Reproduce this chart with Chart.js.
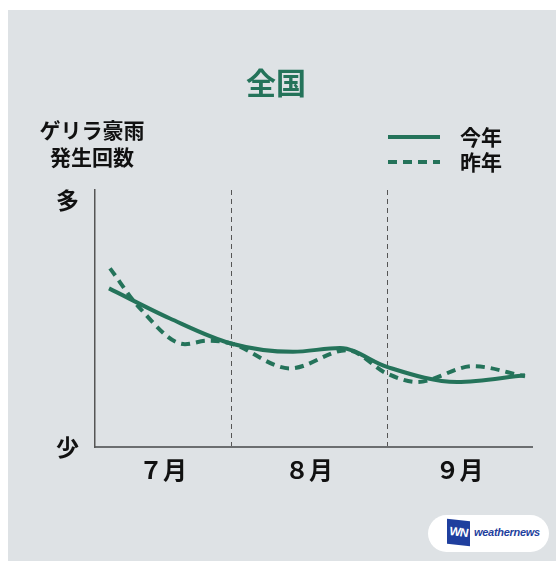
<!DOCTYPE html>
<html>
<head>
<meta charset="UTF-8">
<title>ゲリラ豪雨発生回数 全国</title>
<script src="https://cdn.jsdelivr.net/npm/chart.js@4.4.1/dist/chart.umd.min.js"></script>
<style>
  body { margin: 0; background: #fff; font-family: "Noto Sans CJK JP", sans-serif; }
  .panel { position: absolute; left: 8px; top: 10px; width: 548px; height: 551px; background: #dee2e5; }
  #chart { position: absolute; left: 0; top: 0; }
  .logo { position: absolute; left: 420px; top: 505px; width: 121px; height: 37px; background: #fff; border-radius: 19px; }
  .logo .mark { position: absolute; left: 19px; top: 5px; width: 23px; height: 25px; background: #1f3f9e; transform: skewY(6deg);
                color: #fff; font: italic bold 12px "Liberation Sans", sans-serif; line-height: 25px; text-align: center; letter-spacing: -1px; }
  .logo .name { position: absolute; left: 46px; top: 11px; color: #1f3f9e; font: italic bold 11px "Liberation Sans", sans-serif; letter-spacing: -0.3px; }
</style>
</head>
<body>
<div class="panel">
  <canvas id="chart" width="548" height="551"></canvas>
  <div class="logo"><div class="mark">WN</div><div class="name">weathernews</div></div>
</div>
<script>
// x = position along Jul–Sep (0..437), y = relative count (少 0 .. 多 100)
const monthLabels = ['７月', '８月', '９月'];
const monthCenters = [68, 214, 364.5];
const monthBounds = [136, 292];
const yLabels = { 0: '少', 100: '多' };

const thisYearX = [14, 75, 136, 198, 245, 292, 362, 430];
const thisYearY = [64.2, 52.0, 41.9, 38.5, 40.1, 32.4, 26.3, 29.0];
const lastYearX = [15, 45, 90, 112, 136, 195, 252, 292, 322, 378, 430];
const lastYearY = [72.3, 56.1, 41.6, 43.0, 41.9, 31.8, 39.2, 29.7, 26.3, 32.7, 28.6];

const green = '#24735a';
const toPoints = (xs, ys) => xs.map((x, i) => ({ x: x, y: ys[i] }));

// title, y-axis caption and legend drawn on the canvas
const textPlugin = {
  id: 'texts',
  afterDraw(chart) {
    const c = chart.ctx;
    c.save();
    c.textBaseline = 'middle';
    c.textAlign = 'center';
    c.fillStyle = green;
    c.font = 'bold 30px "Noto Sans CJK JP"';
    c.fillText('全国', 268, 73);

    c.fillStyle = '#111';
    c.font = 'bold 21px "Noto Sans CJK JP"';
    c.fillText('ゲリラ豪雨', 84, 120);
    c.fillText('発生回数', 84, 147);

    chart.data.datasets.forEach((ds, i) => {
      const y = 127 + i * 25;
      c.strokeStyle = ds.borderColor;
      c.lineWidth = ds.borderWidth;
      c.setLineDash(ds.borderDash || []);
      c.beginPath();
      c.moveTo(380, y);
      c.lineTo(432, y);
      c.stroke();
      c.setLineDash([]);
      c.fillStyle = '#111';
      c.textAlign = 'left';
      c.font = 'bold 21px "Noto Sans CJK JP"';
      c.fillText(ds.label, 452, y);
    });
    c.restore();
  }
};

new Chart(document.getElementById('chart'), {
  type: 'line',
  data: {
    datasets: [
      { label: '今年', data: toPoints(thisYearX, thisYearY), borderColor: green, borderWidth: 4,
        cubicInterpolationMode: 'monotone', pointRadius: 0, fill: false },
      { label: '昨年', data: toPoints(lastYearX, lastYearY), borderColor: green, borderWidth: 4,
        borderDash: [9, 6], cubicInterpolationMode: 'monotone', pointRadius: 0, fill: false }
    ]
  },
  options: {
    responsive: false,
    animation: false,
    layout: { padding: { left: 0, top: 180, right: 24, bottom: 64 } },
    plugins: { legend: { display: false }, tooltip: { enabled: false } },
    scales: {
      x: {
        type: 'linear', min: 0, max: 437,
        afterBuildTicks: s => { s.ticks = monthCenters.map(v => ({ value: v })); },
        afterFit: s => { s.height = 50; },
        ticks: {
          callback: v => monthLabels[monthCenters.indexOf(v)],
          font: { family: '"Noto Sans CJK JP"', size: 24, weight: 'bold' },
          color: '#111', padding: 0, maxRotation: 0, autoSkip: false
        },
        grid: { display: false },
        border: { display: true, color: '#6b6e70', width: 2 }
      },
      x2: {
        type: 'linear', position: 'top', min: 0, max: 437,
        afterBuildTicks: s => { s.ticks = monthBounds.map(v => ({ value: v })); },
        afterFit: s => { s.height = 0; },
        ticks: { display: false },
        grid: { color: '#555', lineWidth: 1, drawTicks: false },
        border: { display: false, dash: [5, 4] }
      },
      y: {
        min: 0, max: 104,
        afterBuildTicks: s => { s.ticks = [{ value: 0 }, { value: 100 }]; },
        afterFit: s => { s.width = 87; },
        ticks: {
          callback: v => yLabels[v],
          font: { family: '"Noto Sans CJK JP"', size: 23, weight: 'bold' },
          color: '#111', padding: 8
        },
        grid: { display: false },
        border: { display: true, color: '#555', width: 1.5 }
      }
    }
  },
  plugins: [textPlugin]
});
</script>
</body>
</html>
